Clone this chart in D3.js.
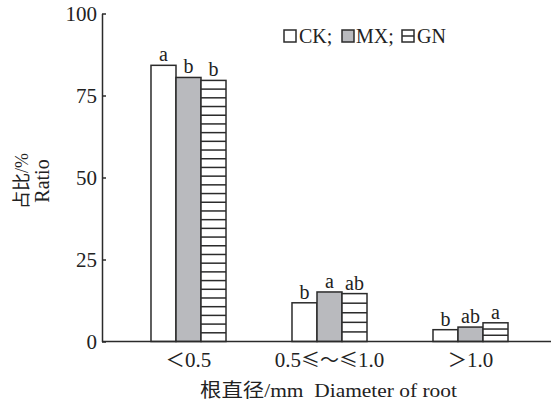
<!DOCTYPE html>
<html>
<head>
<meta charset="utf-8">
<script src="https://cdn.jsdelivr.net/npm/d3@7"></script>
<style>
  body { margin: 0; background: #fff; }
  svg text { font-family: "Liberation Serif", "Times New Roman", "Noto Sans CJK SC", serif; fill: #222; }
</style>
</head>
<body>
<div id="chart"></div>
<script>
const width = 554;
const height = 401;

// data
const groups = ['＜0.5', '0.5≤～≤1.0', '＞1.0'];
const series = ['CK', 'MX', 'GN'];
const ckValues = [84.2, 11.8, 3.6];
const mxValues = [80.5, 15.1, 4.4];
const gnValues = [79.6, 14.6, 5.7];
const ckLetters = ['a', 'b', 'b'];
const mxLetters = ['b', 'a', 'ab'];
const gnLetters = ['b', 'ab', 'a'];
const yTicks = [0, 25, 50, 75, 100];

const values = [ckValues, mxValues, gnValues];
const letters = [ckLetters, mxLetters, gnLetters];
const fills = ['#ffffff', '#b9babe', '#ffffff'];
const stroke = '#2b2b2b';
const cjkChars = '≤～＜＞';

const svg = d3.select('#chart')
    .append('svg')
    .attr('width', width)
    .attr('height', height);

const y = d3.scaleLinear()
    .domain([0, 100])
    .range([341.5, 13.5]);

const x = d3.scaleBand()
    .domain(groups)
    .range([118, 541])
    .paddingInner(0.468)
    .paddingOuter(0.234);

const xSub = d3.scaleBand()
    .domain(series)
    .range([0, x.bandwidth()]);

// bars
const data = [];
groups.forEach((g, gi) => {
    series.forEach((s, si) => {
        data.push({ group: g, series: s, si, value: values[si][gi], letter: letters[si][gi] });
    });
});

const bars = svg.append('g');

bars.selectAll('rect')
    .data(data)
    .join('rect')
    .attr('x', d => x(d.group) + xSub(d.series))
    .attr('y', d => y(d.value))
    .attr('width', xSub.bandwidth())
    .attr('height', d => y(0) - y(d.value))
    .attr('fill', d => fills[d.si])
    .attr('stroke', stroke)
    .attr('stroke-width', 1.5);

// horizontal hatch for GN
data.filter(d => d.series === 'GN').forEach(d => {
    const top = y(d.value);
    const h = y(0) - top;
    const n = Math.max(3, Math.round(h / 8.8));
    const x0 = x(d.group) + xSub(d.series);
    for (let k = 1; k < n; k++) {
        const yy = top + h * k / n;
        bars.append('line')
            .attr('x1', x0).attr('x2', x0 + xSub.bandwidth())
            .attr('y1', yy).attr('y2', yy)
            .attr('stroke', stroke)
            .attr('stroke-width', 1.5);
    }
});

// significance letters
svg.append('g')
    .selectAll('text')
    .data(data)
    .join('text')
    .attr('x', d => x(d.group) + xSub(d.series) + xSub.bandwidth() / 2)
    .attr('y', d => y(d.value) - 4)
    .attr('text-anchor', 'middle')
    .attr('font-size', 20)
    .text(d => d.letter);

// y axis
const yAxis = svg.append('g')
    .attr('transform', 'translate(102,0)')
    .call(d3.axisRight(y).tickValues(yTicks).tickSize(4).tickSizeOuter(0).tickFormat(d3.format('d')));
yAxis.attr('font-family', null);
yAxis.select('.domain').attr('stroke', stroke).attr('stroke-width', 1.5);
yAxis.selectAll('.tick line').attr('stroke', stroke).attr('stroke-width', 1.5);
yAxis.selectAll('.tick text')
    .attr('x', -5)
    .attr('text-anchor', 'end')
    .attr('font-size', 21)
    .attr('fill', '#222');

// x axis baseline
svg.append('line')
    .attr('x1', 102).attr('x2', 551)
    .attr('y1', y(0)).attr('y2', y(0))
    .attr('stroke', stroke)
    .attr('stroke-width', 1.5);

// x tick labels, symbols taken from the CJK font so they come out full width
const xLabels = svg.append('g')
    .selectAll('text')
    .data(groups)
    .join('text')
    .attr('x', d => x(d) + x.bandwidth() / 2)
    .attr('y', 367)
    .attr('text-anchor', 'middle')
    .attr('font-size', 21);
xLabels.each(function(d) {
    const t = d3.select(this);
    Array.from(d).forEach(ch => {
        const span = t.append('tspan').text(ch);
        if (cjkChars.includes(ch)) span.style('font-family', '"Noto Sans CJK SC"').attr('font-size', 19);
    });
});

// axis titles
svg.append('text')
    .attr('x', 200)
    .attr('y', 397)
    .attr('font-size', 19)
    .attr('textLength', 257)
    .attr('lengthAdjust', 'spacingAndGlyphs')
    .attr('xml:space', 'preserve')
    .text('根直径/mm  Diameter of root');

svg.append('text')
    .attr('transform', 'translate(28,181) rotate(-90)')
    .attr('text-anchor', 'middle')
    .attr('font-size', 18)
    .text('占比/%');

svg.append('text')
    .attr('transform', 'translate(49,181) rotate(-90)')
    .attr('text-anchor', 'middle')
    .attr('font-size', 20)
    .text('Ratio');

// legend
const legendItems = [
    { label: 'CK;', box: 284, text: 299 },
    { label: 'MX;', box: 342, text: 356 },
    { label: 'GN', box: 402, text: 417 }
];
const legend = svg.append('g');
legendItems.forEach((item, i) => {
    legend.append('rect')
        .attr('x', item.box).attr('y', 30)
        .attr('width', 12).attr('height', 12)
        .attr('fill', fills[i])
        .attr('stroke', stroke)
        .attr('stroke-width', 1.5);
    if (series[i] === 'GN') {
        legend.append('line')
            .attr('x1', item.box).attr('x2', item.box + 12)
            .attr('y1', 36).attr('y2', 36)
            .attr('stroke', stroke).attr('stroke-width', 1.5);
    }
    legend.append('text')
        .attr('x', item.text)
        .attr('y', 43)
        .attr('font-size', 20)
        .text(item.label);
});
</script>
</body>
</html>
